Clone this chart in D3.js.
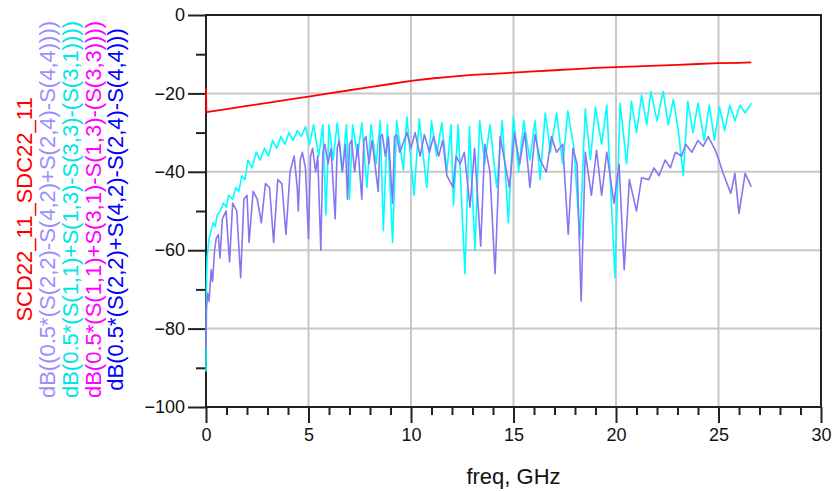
<!DOCTYPE html>
<html>
<head>
<meta charset="utf-8">
<script src="https://cdn.jsdelivr.net/npm/d3@7"></script>
<style>
  body { margin: 0; background: #fff; }
  svg { font-family: "Liberation Sans", Arial, sans-serif; }
</style>
</head>
<body>
<svg width="833" height="491"></svg>
<script>
// trace data (freq in GHz, value in dB)
const redFreq = [0, 0.02, 1, 2, 3, 4, 5, 6, 7, 8, 9, 10, 11, 12, 13, 14, 15, 16, 17, 18, 19, 20, 21, 22, 23, 24, 25, 26, 26.6];
const redDb = [-18.7, -24.8, -24.0, -23.2, -22.4, -21.6, -20.8, -20.0, -19.2, -18.4, -17.6, -16.8, -16.2, -15.7, -15.3, -15.0, -14.7, -14.4, -14.1, -13.8, -13.5, -13.3, -13.1, -12.9, -12.7, -12.5, -12.3, -12.2, -12.1];

const cyanFreq = [0, 0.02, 0.05, 0.15, 0.25, 0.35, 0.45, 0.55, 0.7, 0.85, 1.0, 1.1, 1.3, 1.45, 1.6, 1.75, 1.9, 2.05, 2.25, 2.45, 2.65, 2.85, 3.05, 3.25, 3.45, 3.65, 3.85, 4.05, 4.25, 4.45, 4.65, 4.85, 5.05, 5.25, 5.5, 5.7, 5.85, 6.0, 6.2, 6.4, 6.65, 6.85, 7.0, 7.15, 7.4, 7.6, 7.85, 8.05, 8.3, 8.5, 8.65, 8.85, 9.1, 9.3, 9.63, 9.8, 10.15, 10.4, 10.77, 11.0, 11.25, 11.5, 11.75, 11.95, 12.07, 12.3, 12.63, 12.85, 13.12, 13.35, 13.6, 13.85, 14.18, 14.45, 14.75, 15.0, 15.25, 15.5, 15.8, 16.05, 16.3, 16.55, 16.8, 17.1, 17.4, 17.65, 17.95, 18.24, 18.5, 18.75, 19.0, 19.3, 19.55, 19.95, 20.2, 20.52, 20.75, 21.0, 21.25, 21.5, 21.7, 22.0, 22.3, 22.55, 22.8, 23.05, 23.28, 23.5, 23.75, 24.0, 24.3, 24.55, 24.8, 25.05, 25.3, 25.55, 25.8, 26.05, 26.3, 26.6];
const cyanDb = [-91, -70, -62, -57, -55, -53, -54, -51, -50, -48, -49, -46, -47, -44, -45, -41, -42, -37, -39, -35, -37, -34, -36, -32, -34, -31, -33, -30, -32, -29.5, -31, -28.5, -33, -28, -36, -28, -51, -28, -37, -27.5, -40, -28, -47, -28, -36, -27.5, -44, -28, -38, -27, -55, -28, -58, -27, -39.5, -26, -46, -26.5, -44, -27, -36, -27.5, -40, -28, -48.5, -28, -66, -28.5, -60, -27, -38, -28, -44, -27, -53, -26, -40, -27, -37, -27, -42, -25, -35, -25, -38, -24.5, -34, -57, -24, -37, -23.5, -33, -23, -67, -22.5, -38, -22, -30, -20.5, -28, -19.5, -27, -19.5, -28, -21.5, -30, -41, -22, -30, -22.5, -32, -23, -32, -23.5, -29.5, -23, -27, -23, -25, -22.5];

const lavFreq = [0, 0.02, 0.08, 0.15, 0.25, 0.32, 0.42, 0.5, 0.6, 0.68, 0.8, 0.98, 1.15, 1.3, 1.5, 1.69, 1.85, 2.0, 2.1, 2.3, 2.5, 2.7, 2.9, 3.1, 3.3, 3.5, 3.7, 3.9, 4.1, 4.3, 4.45, 4.5, 4.6, 4.7, 4.85, 5.0, 5.1, 5.2, 5.35, 5.45, 5.6, 5.7, 5.8, 5.95, 6.1, 6.3, 6.4, 6.5, 6.65, 6.8, 6.9, 7.0, 7.1, 7.25, 7.4, 7.6, 7.7, 7.8, 7.95, 8.1, 8.4, 8.5, 8.6, 8.75, 8.9, 9.1, 9.2, 9.3, 9.45, 9.6, 9.8, 10.0, 10.2, 10.45, 10.65, 10.9, 11.1, 11.35, 11.55, 11.75, 12.05, 12.2, 12.4, 12.6, 12.88, 13.1, 13.4, 13.6, 13.85, 14.1, 14.35, 14.8, 15.05, 15.3, 15.55, 15.8, 16.05, 16.3, 16.6, 16.85, 17.1, 17.4, 17.67, 17.9, 18.1, 18.3, 18.5, 18.8, 19.05, 19.3, 19.55, 19.9, 20.15, 20.4, 20.65, 21.0, 21.25, 21.6, 21.85, 22.1, 22.4, 22.65, 22.9, 23.2, 23.4, 23.7, 24.0, 24.25, 24.5, 24.8, 25.0, 25.2, 25.4, 25.6, 25.8, 26.0, 26.3, 26.6];
const lavDb = [-85, -75, -71, -73, -65, -68, -60, -57, -56, -62, -52, -50, -63, -48, -50, -67, -47, -46, -58, -45, -47, -53, -43, -44, -58, -42, -43, -56, -40, -36, -44, -50, -37, -35, -39, -57, -36, -34, -40, -36, -60, -35, -33, -38, -34, -52, -34, -32, -40, -33, -47, -33, -32, -40, -33, -47, -32, -31, -38, -32, -45, -31, -30.5, -36, -31, -48, -31, -30.5, -35, -33, -30, -34, -30, -36, -30.5, -35, -31, -36, -32, -41, -44, -36, -38, -35, -49, -34, -59, -33, -40, -66, -31, -44, -30, -38, -30, -44, -30.5, -37, -40, -31, -35, -33, -56, -34, -38, -73, -35, -46, -34.5, -46, -35, -48, -38, -65, -42, -50, -41.5, -42, -39, -41, -37, -39, -35, -36, -33, -35, -32, -33.5, -31, -34, -36.7, -40, -42.8, -45.5, -40.4, -50.6, -40.4, -43.8];

const legendLabels = [
  'SCD22_11_SDC22_11',
  'dB((0.5*(S(2,2)-S(4,2)+S(2,4)-S(4,4))))',
  'dB(0.5*(S(1,1)+S(1,3)-S(3,3)-(S(3,1))))',
  'dB(0.5*(S(1,1)+S(3,1)-S(1,3)-(S(3,3))))',
  'dB(0.5*(S(2,2)+S(4,2)-S(2,4)-S(4,4)))'
];
const legendColors = ['#ff0000', '#9d8eff', '#00e5e5', '#ff00ff', '#0000ff'];

const xMajor = [0, 5, 10, 15, 20, 25, 30];
const yMajor = [-100, -80, -60, -40, -20, 0];

const svg = d3.select('svg');
const plot = { left: 206, right: 821, top: 15, bottom: 407 };

const x = d3.scaleLinear().domain([0, 30]).range([plot.left, plot.right]);
const y = d3.scaleLinear().domain([-100, 0]).range([plot.bottom, plot.top]);

// grid lines
const grid = svg.append('g').attr('stroke', '#c8c8c8').attr('stroke-width', 2);
grid.selectAll('.gx').data(xMajor.slice(1, -1)).enter().append('line')
  .attr('x1', d => x(d)).attr('x2', d => x(d)).attr('y1', plot.top).attr('y2', plot.bottom);
grid.selectAll('.gy').data(yMajor.slice(1, -1)).enter().append('line')
  .attr('y1', d => y(d)).attr('y2', d => y(d)).attr('x1', plot.left).attr('x2', plot.right);

// axes: minor then major ticks
const axisStyle = g => {
  g.select('.domain').remove();
  g.selectAll('line').attr('stroke', '#222').attr('stroke-width', 2);
  g.selectAll('text').attr('fill', '#111').style('font-size', '18px')
    .style('font-family', '"Liberation Sans", Arial, sans-serif');
};

svg.append('g').attr('transform', `translate(${plot.left},0)`)
  .call(d3.axisLeft(y).tickValues(d3.range(-90, 0, 20)).tickSize(10).tickFormat(''))
  .call(axisStyle);
svg.append('g').attr('transform', `translate(${plot.left},0)`)
  .call(d3.axisLeft(y).tickValues(yMajor).tickSize(18).tickPadding(3))
  .call(axisStyle);

svg.append('g').attr('transform', `translate(0,${plot.bottom})`)
  .call(d3.axisBottom(x).tickValues(d3.range(0, 31).filter(d => d % 5)).tickSize(8).tickFormat(''))
  .call(axisStyle);
svg.append('g').attr('transform', `translate(0,${plot.bottom})`)
  .call(d3.axisBottom(x).tickValues(xMajor).tickSize(16).tickPadding(5))
  .call(axisStyle);

// frame
svg.append('rect')
  .attr('x', plot.left).attr('y', plot.top)
  .attr('width', plot.right - plot.left).attr('height', plot.bottom - plot.top)
  .attr('fill', 'none').attr('stroke', '#222').attr('stroke-width', 2);

// traces (drawn over the frame, like the original)
const drawTrace = (fs, vs, color, w) => {
  const line = d3.line().x(d => x(d[0])).y(d => y(d[1]));
  svg.append('path')
    .datum(fs.map((f, i) => [f, vs[i]]))
    .attr('d', line)
    .attr('fill', 'none')
    .attr('stroke', color)
    .attr('stroke-width', w)
    .attr('stroke-linejoin', 'round');
};
drawTrace(cyanFreq, cyanDb, '#00ffff', 1.6);
drawTrace(lavFreq, lavDb, '#8676f0', 1.6);
drawTrace(redFreq, redDb, '#ff0000', 1.8);

// axis title
svg.append('text')
  .attr('x', (plot.left + plot.right) / 2).attr('y', 484)
  .attr('text-anchor', 'middle')
  .style('font-size', '22px')
  .attr('fill', '#111')
  .text('freq, GHz');

// rotated legend on the left
const legendX = [32, 55, 78, 101, 123];
svg.append('g').selectAll('text')
  .data(legendLabels).enter().append('text')
  .attr('transform', (d, i) => `translate(${legendX[i]},209.5) rotate(-90)`)
  .attr('text-anchor', 'middle')
  .style('font-size', '22px')
  .attr('fill', (d, i) => legendColors[i])
  .text(d => d);
</script>
</body>
</html>
